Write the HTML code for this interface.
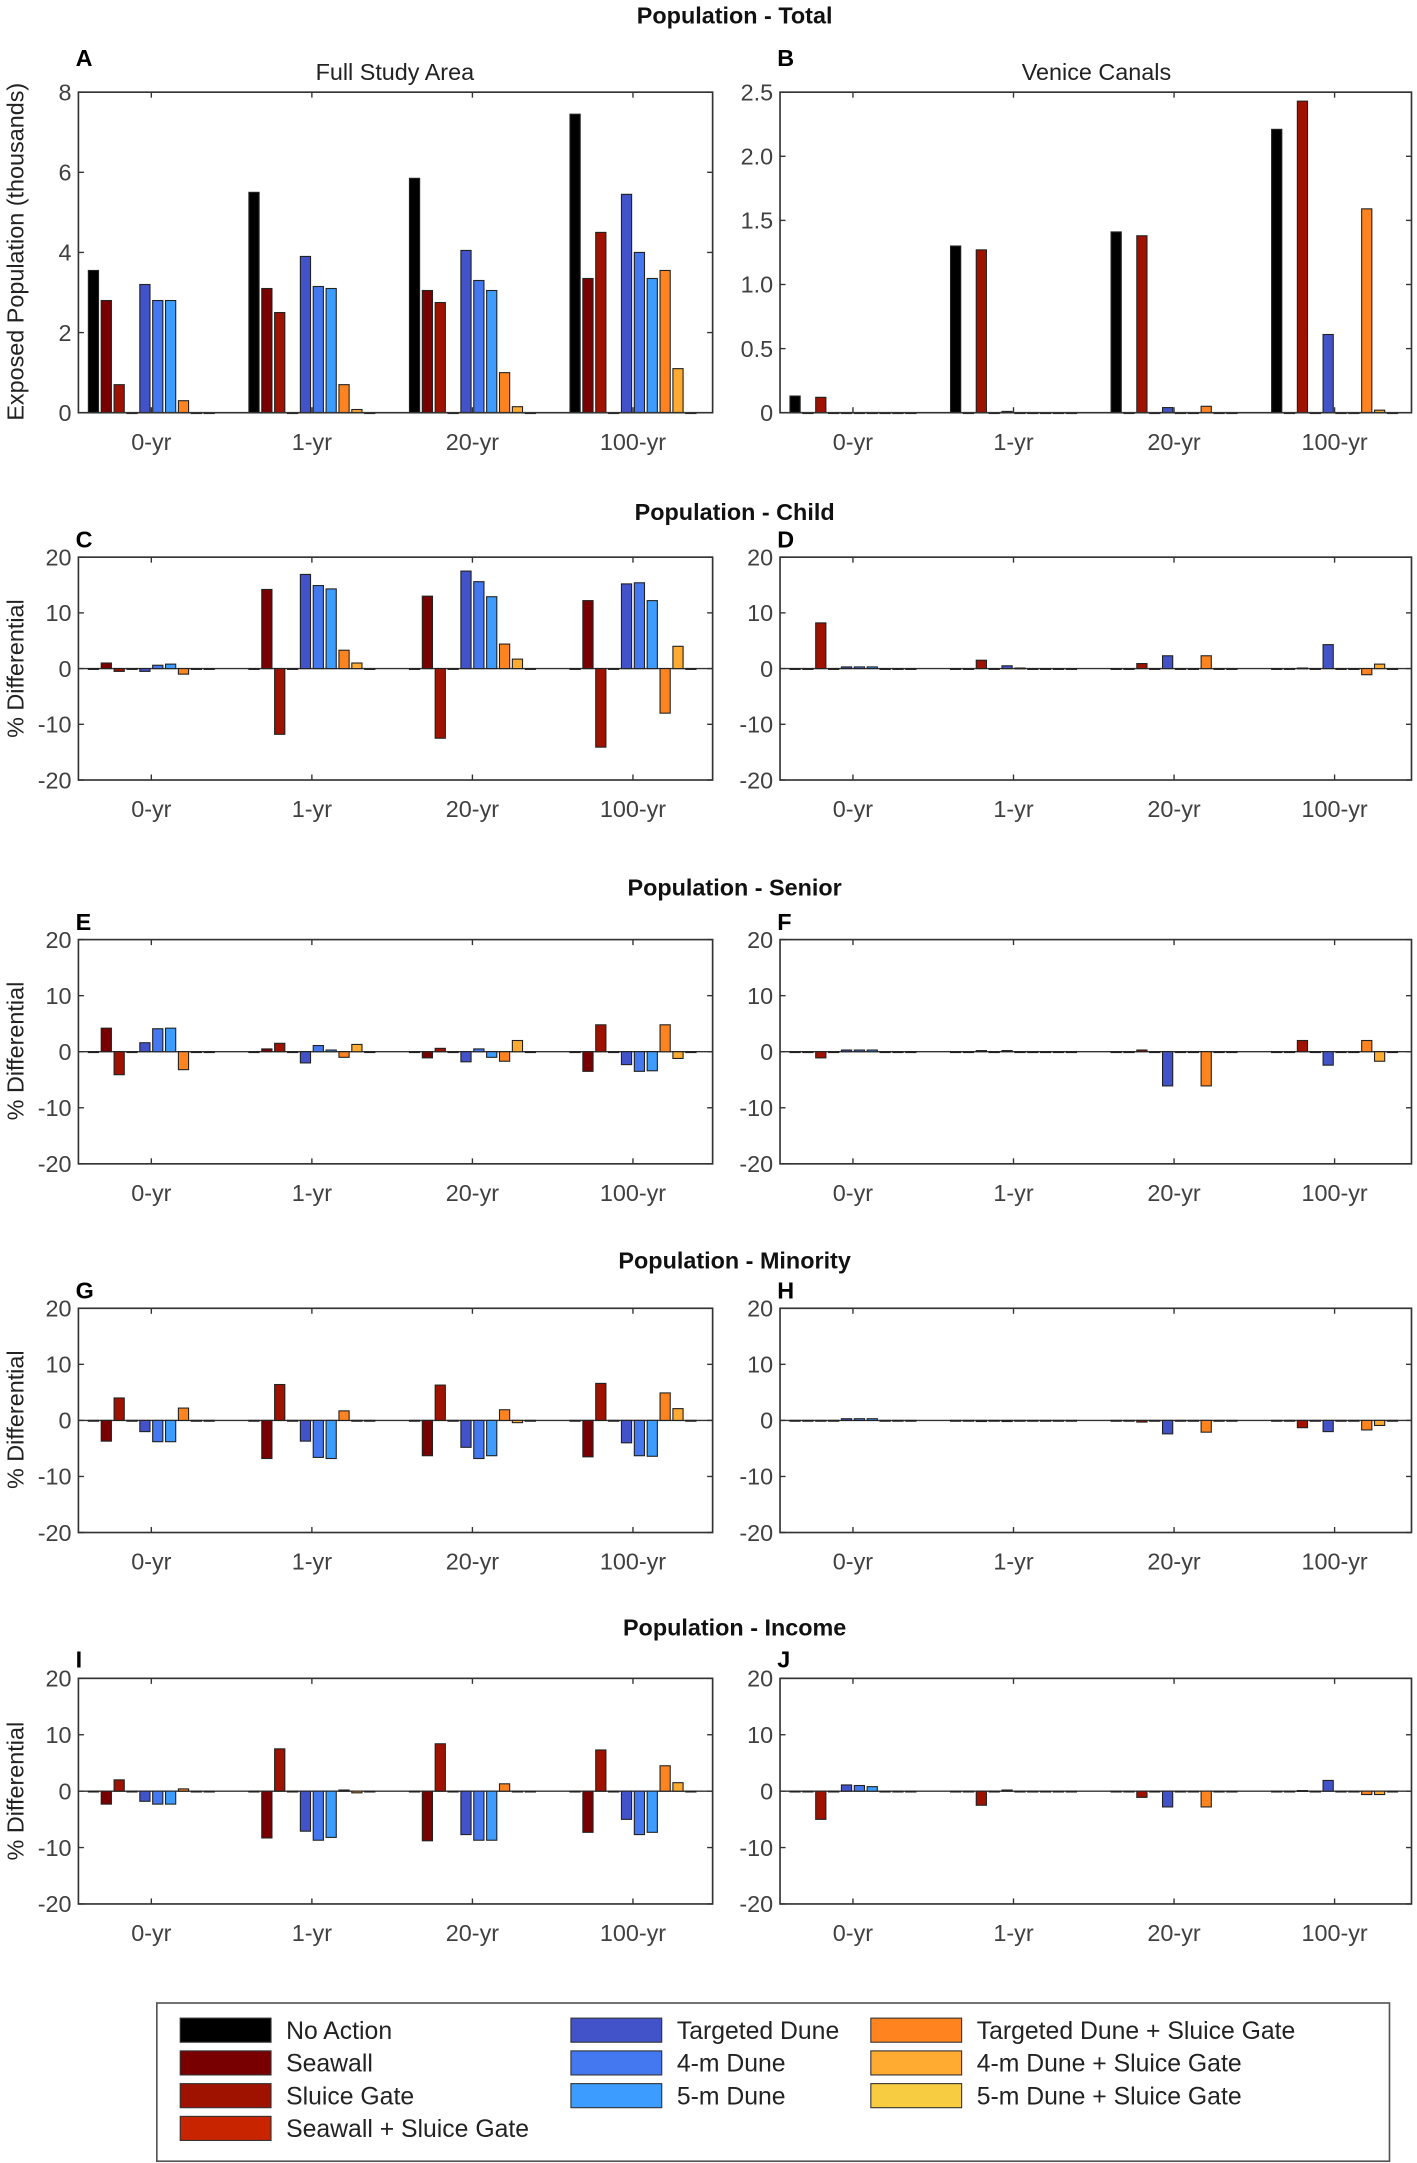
<!DOCTYPE html>
<html><head><meta charset="utf-8"><style>
html,body{margin:0;padding:0;background:#fff;}
svg{display:block;font-family:"Liberation Sans",Arial,sans-serif;}
</style></head><body>
<svg id="fig" xmlns="http://www.w3.org/2000/svg" width="1417" height="2163" viewBox="0 0 1030 1572.3" preserveAspectRatio="none"></svg>
<script>
const groups = ["0-yr","1-yr","20-yr","100-yr"];
const seriesNames = ["No Action","Seawall","Sluice Gate","Seawall + Sluice Gate","Targeted Dune","4-m Dune","5-m Dune","Targeted Dune + Sluice Gate","4-m Dune + Sluice Gate","5-m Dune + Sluice Gate"];
const seriesColors = ["#000000","#780000","#a01200","#c82400","#4252c8","#4478f0","#3c9cff","#ff8420","#ffaa30","#f8cc40"];
const ticksTotalA = [0,2,4,6,8];
const ticksTotalB = ["0","0.5","1.0","1.5","2.0","2.5"];
const ticksDiff = [-20,-10,0,10,20];
// values per group: [NoAction,Seawall,Sluice,Seawall+Sluice,Targeted,4m,5m,TD+SG,4m+SG,5m+SG]
const totalFull = [[3.55,2.8,0.7,0,3.2,2.8,2.8,0.3,0,0],[5.5,3.1,2.5,0,3.9,3.15,3.1,0.7,0.08,0],[5.85,3.05,2.75,0,4.05,3.3,3.05,1.0,0.15,0],[7.45,3.35,4.5,0,5.45,4.0,3.35,3.55,1.1,0]];
const totalVenice = [[0.13,0,0.12,0,0,0,0,0,0,0],[1.3,0,1.27,0,0.01,0,0,0,0,0],[1.41,0,1.38,0,0.04,0,0,0.05,0,0],[2.21,0,2.43,0,0.61,0,0,1.59,0.02,0]];
const childFull = [[0,1.0,-0.5,0,-0.5,0.6,0.8,-1.0,0,0],[0,14.2,-11.8,0,16.9,14.9,14.3,3.3,1.0,0],[0,13.0,-12.5,0,17.5,15.6,12.9,4.4,1.7,0],[0,12.2,-14.1,0,15.2,15.4,12.2,-8.0,4.0,0]];
const childVenice = [[0,0,8.2,0,0.3,0.3,0.3,0,0,0],[0,0,1.5,0,0.5,0.1,0,0,0,0],[0,0,0.9,0,2.3,0,0,2.3,0,0],[0,0,0.1,0,4.3,0,0,-1.1,0.8,0]];
const seniorFull = [[0,4.2,-4.1,0,1.6,4.1,4.2,-3.2,0,0],[0,0.5,1.5,0,-2.0,1.1,0.3,-1.0,1.3,0],[0,-1.1,0.6,0,-1.8,0.5,-1.0,-1.7,2.0,0],[0,-3.5,4.8,0,-2.3,-3.5,-3.4,4.8,-1.2,0]];
const seniorVenice = [[0,0,-1.1,0,0.3,0.3,0.3,0,0,0],[0,0,0.2,0,0.2,0,0,0,0,0],[0,0,0.3,0,-6.1,0,0,-6.1,0,0],[0,0,2.0,0,-2.4,0,0,2.0,-1.7,0]];
const minorityFull = [[0,-3.7,4.0,0,-2.0,-3.8,-3.8,2.2,0,0],[0,-6.8,6.4,0,-3.7,-6.6,-6.8,1.7,0,0],[0,-6.3,6.3,0,-4.8,-6.8,-6.3,1.9,-0.4,0],[0,-6.5,6.6,0,-4.0,-6.3,-6.4,4.9,2.1,0]];
const minorityVenice = [[0,0,-0.1,0,0.3,0.3,0.3,0,0,0],[0,0,-0.2,0,-0.2,0,0,0,0,0],[0,0,-0.3,0,-2.4,0,0,-2.1,0,0],[0,0,-1.3,0,-2.0,0,0,-1.7,-0.9,0]];
const incomeFull = [[0,-2.3,2.0,0,-1.8,-2.3,-2.3,0.4,0,0],[0,-8.3,7.5,0,-7.1,-8.7,-8.2,0.2,-0.3,0],[0,-8.8,8.4,0,-7.7,-8.7,-8.7,1.3,0,0],[0,-7.3,7.3,0,-5.0,-7.7,-7.3,4.5,1.5,0]];
const incomeVenice = [[0,0,-5.0,0,1.1,1.0,0.8,0,0,0],[0,0,-2.5,0,0.2,0,0,0,0,0],[0,0,-1.1,0,-2.8,0,0,-2.8,0,0],[0,0,0.1,0,1.9,0,0,-0.6,-0.6,0]];

const NS="http://www.w3.org/2000/svg";
const svg=document.getElementById('fig');
function mk(tag,attrs,parent){const e=document.createElementNS(NS,tag);for(const k in attrs)e.setAttribute(k,attrs[k]);(parent||svg).appendChild(e);return e;}
function txt(s,x,y,size,opts,parent){const e=mk('text',Object.assign({x:x,y:y,'font-size':size,fill:'#404040'},opts||{}),parent);e.textContent=s;return e;}

function panel(name,x0,x1,yTop,yBot,vmin,vmax,ticks,tickLabels,data,isDiff){
  const g=mk('g',{});
  
  
  const ys=v=>yBot-(v-vmin)/(vmax-vmin)*(yBot-yTop);
  const gx=i=>x0+53+i*116.7;
  const pitch=9.35,bw=7.4;
  // zero line
  if(isDiff){const zl=mk('line',{x1:x0,x2:x1,y1:ys(0),y2:ys(0),stroke:'#333','stroke-width':1},g);
    
    }
  data.forEach((vals,i)=>{
    vals.forEach((v,k)=>{
      const cx=gx(i)+(k-4.5)*pitch;
      const y0=ys(0),y1=ys(v);
      const r=mk('rect',{x:cx-bw/2,y:Math.min(y0,y1),width:bw,height:Math.max(Math.abs(y1-y0),0.6),fill:seriesColors[k],stroke:'#222','stroke-width':0.8},g);
      
      
    });
  });
  const box=mk('rect',{x:x0,y:yTop,width:x1-x0,height:yBot-yTop,fill:'none',stroke:'#333','stroke-width':1.2},g);
  
  
  ticks.forEach((t,j)=>{
    const y=ys(t);
    mk('line',{x1:x0,x2:x0+4,y1:y,y2:y,stroke:'#333','stroke-width':1},g);
    mk('line',{x1:x1-4,x2:x1,y1:y,y2:y,stroke:'#333','stroke-width':1},g);
    const l=txt(tickLabels[j],x0-5,y+6,17,{'text-anchor':'end'},g);
    
    
  });
  groups.forEach((gname,i)=>{
    const x=gx(i);
    mk('line',{x1:x,x2:x,y1:yBot,y2:yBot-4,stroke:'#333','stroke-width':1},g);
    mk('line',{x1:x,x2:x,y1:yTop,y2:yTop+4,stroke:'#333','stroke-width':1},g);
    const l=txt(gname,x,yBot+27,17,{'text-anchor':'middle'},g);
    
    
  });
}
const L=[57,518],R=[567,1026];
panel('panel-a-total-full',L[0],L[1],67,300,0,8,ticksTotalA,ticksTotalA.map(String),totalFull,false);
panel('panel-b-total-venice',R[0],R[1],67,300,0,2.5,ticksTotalB.map(Number),ticksTotalB,totalVenice,false);
const diffRows=[[405,567,childFull,childVenice,'child'],[683,846,seniorFull,seniorVenice,'senior'],[951,1114,minorityFull,minorityVenice,'minority'],[1220,1384,incomeFull,incomeVenice,'income']];
diffRows.forEach(r=>{
  panel('panel-'+r[4]+'-full',L[0],L[1],r[0],r[1],-20,20,ticksDiff,ticksDiff.map(String),r[2],true);
  panel('panel-'+r[4]+'-venice',R[0],R[1],r[0],r[1],-20,20,ticksDiff,ticksDiff.map(String),r[3],true);
});
// titles
[["Population - Total",17],["Population - Child",378],["Population - Senior",651],["Population - Minority",922],["Population - Income",1189]].forEach(t=>{
  const e=txt(t[0],534,t[1],17,{'text-anchor':'middle','font-weight':'bold',fill:'#111'});
  
  
});
[["A",55,48],["B",565,48],["C",55,398],["D",565,398],["E",55,676],["F",565,676],["G",55,944],["H",565,944],["I",55,1212],["J",565,1212]].forEach(t=>{
  const e=txt(t[0],t[1],t[2],17,{'font-weight':'bold',fill:'#000'});
  
  
});
[["Full Study Area",287],["Venice Canals",797]].forEach(t=>{
  const e=txt(t[0],t[1],58,17,{'text-anchor':'middle',fill:'#222'});
  
  
});
{const e=txt("Exposed Population (thousands)",0,0,17,{'text-anchor':'middle',fill:'#222',transform:'translate(17,183) rotate(-90)'});

}
[486,764,1032,1302].forEach(y=>{
  const e=txt("% Differential",0,0,17,{'text-anchor':'middle',fill:'#222',transform:'translate(17,'+y+') rotate(-90)'});
  
  
});
// legend
const lg=mk('g',{});


mk('rect',{x:114,y:1456,width:896,height:115,fill:'#fff',stroke:'#555','stroke-width':1.2},lg);
const legPos=[[131,0],[131,1],[131,2],[131,3],[415,0],[415,1],[415,2],[633,0],[633,1],[633,2]];
seriesNames.forEach((n,k)=>{
  const x=legPos[k][0],y=1467+legPos[k][1]*23.8;
  const s=mk('rect',{x:x,y:y,width:66,height:17.5,fill:seriesColors[k],stroke:'#333','stroke-width':0.8},lg);
  
  
  const t=txt(n,x+77,y+15,18,{fill:'#222'},lg);
  
  
});
</script>
</body></html>
